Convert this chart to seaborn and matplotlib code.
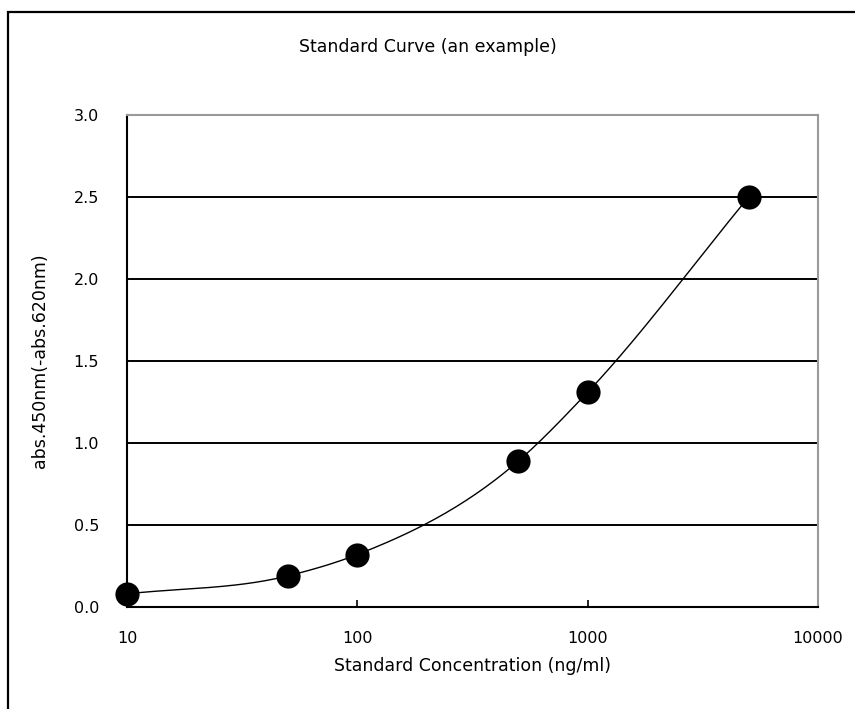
import numpy as np
import pandas as pd
import matplotlib
matplotlib.use("Agg")
import matplotlib.pyplot as plt
import seaborn as sns
from matplotlib.patches import Rectangle

# Data
concentration = [10, 50, 100, 500, 1000, 5000]
absorbance = [0.08, 0.19, 0.32, 0.89, 1.31, 2.50]
x_ticks = [10, 100, 1000, 10000]
x_tick_labels = ["10", "100", "1000", "10000"]
y_ticks = [0.0, 0.5, 1.0, 1.5, 2.0, 2.5, 3.0]
title = "Standard Curve (an example)"
xlabel = "Standard Concentration (ng/ml)"
ylabel = "abs.450nm(-abs.620nm)"

sns.set_theme(style="white")
plt.rcParams['font.family'] = ['DejaVu Sans']

df = pd.DataFrame({"conc": concentration, "abs": absorbance})

# Smoothed display line: cubic Hermite through the points in log-x space
lx = np.log10(np.array(concentration, dtype=float))
ly = np.array(absorbance, dtype=float)
h = np.diff(lx)
d = np.diff(ly) / h
m = np.empty_like(ly)
m[0] = d[0]
m[-1] = d[-1]
for i in range(1, len(ly) - 1):
    m[i] = (h[i] * d[i - 1] + h[i - 1] * d[i]) / (h[i - 1] + h[i])
sx, sy = [], []
for i in range(len(lx) - 1):
    t = np.linspace(0, 1, 50)
    h00 = 2 * t**3 - 3 * t**2 + 1
    h10 = t**3 - 2 * t**2 + t
    h01 = -2 * t**3 + 3 * t**2
    h11 = t**3 - t**2
    sx.extend(lx[i] + t * h[i])
    sy.extend(h00 * ly[i] + h10 * h[i] * m[i] + h01 * ly[i + 1] + h11 * h[i] * m[i + 1])
smooth = pd.DataFrame({"conc": 10 ** np.array(sx), "abs": sy})

fig = plt.figure(figsize=(8.55, 7.09), dpi=100)
ax = fig.add_axes([127 / 855, 1 - 607 / 709, (818 - 127) / 855, (607 - 115) / 709])

ax.set_xscale("log")
ax.set_xlim(10, 10000)
ax.set_ylim(0, 3.0)

for yv in y_ticks[1:-1]:
    ax.axhline(yv, color="black", lw=1.4, zorder=1)

sns.lineplot(data=smooth, x="conc", y="abs", ax=ax, color="black", lw=1.0,
             sort=False, estimator=None, zorder=3)
sns.scatterplot(data=df, x="conc", y="abs", ax=ax, color="black", s=260,
                marker="o", edgecolor="black", zorder=4, clip_on=False)

ax.set_xticks(x_ticks)
ax.set_xticklabels(x_tick_labels)
ax.xaxis.set_minor_locator(matplotlib.ticker.NullLocator())
ax.set_yticks(y_ticks)
ax.set_yticklabels([f"{v:.1f}" for v in y_ticks])
ax.tick_params(axis="x", direction="in", length=5, width=1.2, pad=17, labelsize=11.5,
               colors="black", top=False, bottom=True)
ax.tick_params(axis="y", length=0, pad=20, labelsize=11.5)
for lab in ax.get_xticklabels() + ax.get_yticklabels():
    lab.set_color("black")

ax.set_xlabel(xlabel, fontsize=12.5, labelpad=8, color="black")
ax.set_ylabel(ylabel, fontsize=12.5, labelpad=18, color="black")

for side in ["left", "bottom"]:
    ax.spines[side].set_color("black")
    ax.spines[side].set_linewidth(1.5)
for side in ["top", "right"]:
    ax.spines[side].set_color("#999999")
    ax.spines[side].set_linewidth(1.5)

fig.text(0.5, 1 - 47 / 709, title, ha="center", va="center", fontsize=12.5, color="black")

# Figure frame
fig.patches.append(Rectangle((8 / 855, -0.05), 1.2, 1 - 12 / 709 + 0.05, transform=fig.transFigure,
                             fill=False, edgecolor="black", lw=1.6, zorder=0))

fig.savefig("out.png", dpi=100, facecolor="white")
